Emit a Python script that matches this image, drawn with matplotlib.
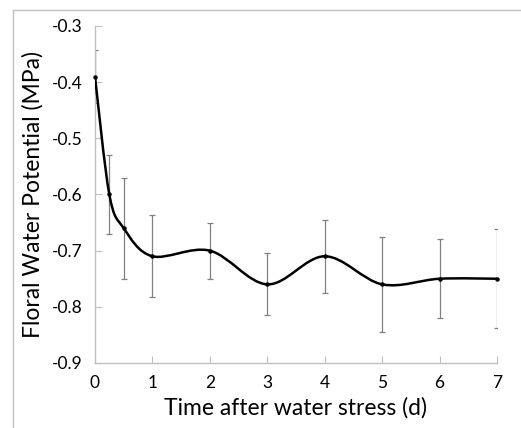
"""
Floral water potential after water stress — smoothed line with error bars
"""

import matplotlib
matplotlib.use("Agg")
import matplotlib.pyplot as plt
from matplotlib.path import Path
from matplotlib.patches import PathPatch
from matplotlib.lines import Line2D
import numpy as np

plt.rcParams["font.family"] = ["Lato", "DejaVu Sans"]
plt.rcParams["axes.unicode_minus"] = False

# data
days = [0, 0.25, 0.5, 1, 2, 3, 4, 5, 6, 7]
potential = [-0.39, -0.60, -0.66, -0.71, -0.70, -0.76, -0.71, -0.76, -0.75, -0.75]
potential_err = [0.047, 0.07, 0.09, 0.073, 0.05, 0.055, 0.065, 0.085, 0.07, 0.088]
x_ticks = [0, 1, 2, 3, 4, 5, 6, 7]
y_ticks = [-0.9, -0.8, -0.7, -0.6, -0.5, -0.4, -0.3]

AXIS_GRAY = "#bfbfbf"


def smooth_path(x, y):
    # Excel-style smoothed line: cubic Bezier with Catmull-Rom control points
    pts = np.column_stack([x, y])
    verts = [pts[0]]
    codes = [Path.MOVETO]
    n = len(pts)
    for i in range(n - 1):
        p0 = pts[i - 1] if i > 0 else pts[i]
        p1 = pts[i]
        p2 = pts[i + 1]
        p3 = pts[i + 2] if i + 2 < n else pts[i + 1]
        c1 = p1 + (p2 - p0) / 6.0
        c2 = p2 - (p3 - p1) / 6.0
        verts += [c1, c2, p2]
        codes += [Path.CURVE4] * 3
    return Path(verts, codes)


fig = plt.figure(figsize=(5.21, 4.28), dpi=100)
ax = fig.add_axes([0.1823, 0.1519, 0.7716, 0.7874])

ax.errorbar(days, potential, yerr=potential_err, fmt="none",
            ecolor="#808080", elinewidth=0.9, capsize=2, capthick=0.9, zorder=2)

# smoothed line (Bezier in data space, axes are linear so this is fine)
ax.add_patch(PathPatch(smooth_path(days, potential), facecolor="none",
                       edgecolor="black", lw=1.8, zorder=3))
ax.plot(days, potential, "o", color="black", ms=2.2, zorder=4, clip_on=False)

ax.set_xlim(0, 7)
ax.set_ylim(-0.9, -0.3)
ax.set_xticks(x_ticks)
ax.set_yticks(y_ticks)
ax.set_xticklabels([str(t) for t in x_ticks])
ax.set_yticklabels([f"{t:.1f}" for t in y_ticks])

for side in ["top", "right"]:
    ax.spines[side].set_visible(False)
for side in ["left", "bottom"]:
    ax.spines[side].set_color(AXIS_GRAY)
    ax.spines[side].set_linewidth(1.0)
ax.tick_params(direction="in", length=5, color=AXIS_GRAY, labelsize=12.5,
               labelcolor="black")
ax.tick_params(axis="x", pad=9)
ax.tick_params(axis="y", pad=9)

ax.set_xlabel("Time after water stress (d)", fontsize=16.5, labelpad=4)
ax.set_ylabel("Floral Water Potential (MPa)", fontsize=16.5, labelpad=6)

# chart-area border (only the top and left edges are visible)
fig.add_artist(Line2D([13 / 521, 13 / 521], [0, 1 - 10 / 428],
                      transform=fig.transFigure, color="#c0c0c0", lw=1.0))
fig.add_artist(Line2D([13 / 521, 1], [1 - 10 / 428, 1 - 10 / 428],
                      transform=fig.transFigure, color="#c0c0c0", lw=1.0))

fig.savefig("out.png", dpi=100)
